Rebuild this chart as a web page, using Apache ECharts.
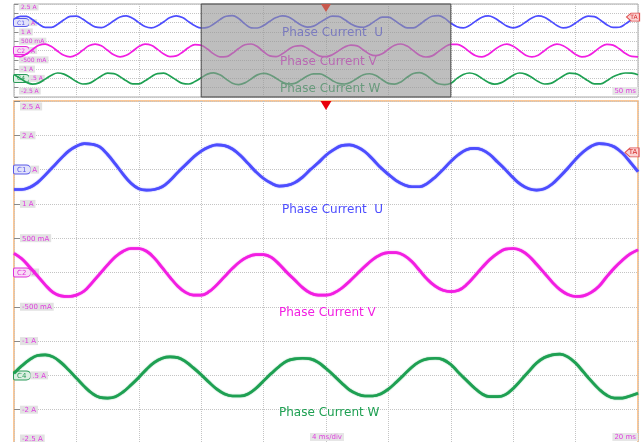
<!DOCTYPE html>
<html><head><meta charset="utf-8">
<script src="https://cdn.jsdelivr.net/npm/echarts@6/dist/echarts.min.js"></script>
<style>html,body{margin:0;padding:0;background:#fff;}#c{width:644px;height:442px;}</style>
</head><body><div id="c"></div>
<script>
// ---------- data ----------
const mainStepMs = 0.5;          // main record: 4 ms/div, 40 ms window
const overviewStepMs = 1;        // overview record: 100 ms
const zoomWindowMs = [30, 70];   // part of the overview shown in the main view
const triggerLevelA = 1.75;

const mainU = [1.21,1.21,1.24,1.31,1.42,1.54,1.66,1.77,1.84,1.88,
 1.87,1.83,1.72,1.58,1.43,1.30,1.22,1.20,
 1.21,1.25,1.34,1.46,1.57,1.68,1.77,1.83,1.86,
 1.85,1.80,1.71,1.59,1.47,1.37,1.30,1.26,
 1.27,1.31,1.39,1.50,1.60,1.71,1.79,1.85,
 1.86,1.83,1.76,1.65,1.53,1.43,1.34,1.28,1.25,
 1.25,1.30,1.39,1.50,1.62,1.72,1.79,1.81,
 1.79,1.72,1.61,1.50,1.38,1.28,1.22,1.20,
 1.22,1.29,1.40,1.52,1.65,1.76,1.84,1.88,
 1.87,1.83,1.74,1.61,1.47];
const mainV = [0.28,0.20,0.08,-0.05,-0.18,-0.29,-0.34,-0.35,
 -0.33,-0.27,-0.15,-0.02,0.11,0.23,0.31,0.35,
 0.35,0.31,0.21,0.07,-0.07,-0.20,-0.29,-0.33,
 -0.33,-0.28,-0.18,-0.06,0.06,0.16,0.23,0.26,
 0.26,0.22,0.12,0.00,-0.11,-0.22,-0.30,-0.33,
 -0.33,-0.30,-0.23,-0.13,-0.02,0.09,0.19,0.26,0.29,
 0.29,0.25,0.16,0.03,-0.10,-0.20,-0.26,-0.28,
 -0.26,-0.18,-0.06,0.07,0.19,0.28,0.34,0.35,
 0.32,0.24,0.12,-0.01,-0.14,-0.25,-0.32,-0.35,
 -0.34,-0.29,-0.20,-0.06,0.07,0.18,0.27,0.33];
const mainW = [-1.47,-1.36,-1.27,-1.21,-1.20,
 -1.23,-1.31,-1.42,-1.54,-1.66,-1.76,-1.82,-1.83,
 -1.81,-1.74,-1.64,-1.53,-1.41,-1.31,-1.25,-1.23,
 -1.24,-1.30,-1.39,-1.49,-1.60,-1.70,-1.77,-1.80,
 -1.80,-1.77,-1.69,-1.58,-1.47,-1.37,-1.29,-1.26,-1.25,
 -1.26,-1.31,-1.40,-1.50,-1.61,-1.71,-1.77,-1.80,
 -1.80,-1.77,-1.70,-1.60,-1.49,-1.38,-1.30,-1.26,-1.25,
 -1.27,-1.34,-1.46,-1.57,-1.68,-1.77,-1.81,
 -1.81,-1.78,-1.69,-1.57,-1.44,-1.32,-1.24,-1.20,
 -1.19,-1.23,-1.32,-1.45,-1.58,-1.70,-1.79,-1.83,-1.83,-1.80,-1.76];

// overview record outside the zoom window (0..29 ms and 71..100 ms)
const preU = [1.69,1.84,1.83,1.65,1.41,1.24,1.24,1.41,1.65,1.83,1.85,1.69,1.46,1.27,1.23,1.37,1.60,1.80,1.86,1.73,1.50,1.29,1.22,1.33,1.55,1.77,1.86,1.77,1.55,1.33];
const postU = [1.28,1.22,1.35,1.58,1.79,1.86,1.75,1.53,1.31,1.22,1.31,1.53,1.75,1.86,1.79,1.58,1.35,1.22,1.28,1.48,1.71,1.85,1.82,1.63,1.39,1.24,1.25,1.43,1.67,1.84];
const preV = [-0.29,-0.33,-0.18,0.07,0.28,0.34,0.21,-0.04,-0.26,-0.34,-0.23,0.01,0.25,0.34,0.25,0.01,-0.23,-0.34,-0.26,-0.04,0.21,0.34,0.28,0.06,-0.19,-0.33,-0.29,-0.09,0.16,0.32];
const postV = [0.33,0.19,-0.07,-0.28,-0.34,-0.21,0.04,0.26,0.34,0.23,-0.01,-0.25,-0.34,-0.25,-0.01,0.23,0.34,0.26,0.04,-0.21,-0.34,-0.28,-0.07,0.19,0.33,0.29,0.09,-0.16,-0.32,-0.34];
const preW = [-1.29,-1.50,-1.71,-1.81,-1.74,-1.54,-1.33,-1.21,-1.27,-1.45,-1.67,-1.80,-1.77,-1.59,-1.37,-1.22,-1.24,-1.41,-1.63,-1.79,-1.79,-1.63,-1.41,-1.24,-1.22,-1.37,-1.59,-1.77,-1.80,-1.67];
const postW = [-1.50,-1.29,-1.21,-1.29,-1.50,-1.71,-1.81,-1.74,-1.55,-1.33,-1.21,-1.27,-1.45,-1.67,-1.80,-1.77,-1.59,-1.37,-1.22,-1.24,-1.41,-1.63,-1.79,-1.79,-1.63,-1.41,-1.28,-1.21,-1.22,-1.30];

const seriesNames = ['Phase Current  U', 'Phase Current V', 'Phase Current W'];
const yTickValues = [2.5, 2, 1.5, 1, 0.5, 0, -0.5, -1, -1.5, -2, -2.5];
const yTickLabels = ['2.5 A', '2 A', 'A', '1 A', '500 mA', 'A', '-500 mA', '-1 A', '.5 A', '-2 A', '-2.5 A'];
const channelTags = ['', '', 'C1', '', '', 'C2', '', '', 'C4', '', ''];
const mainTimeLabel = '4 ms/div', mainSpanLabel = '20 ms', overviewSpanLabel = '50 ms';

// ---------- build ----------
const colors = ['#4d4dff', '#f21ee2', '#1ea052'];
const mainT = mainU.map((_, i) => i * mainStepMs);
const halfStep = Math.round(overviewStepMs / mainStepMs);
const ovU = preU.concat(mainU.filter((_, i) => i % halfStep === 0), postU);
const ovV = preV.concat(mainV.filter((_, i) => i % halfStep === 0), postV);
const ovW = preW.concat(mainW.filter((_, i) => i % halfStep === 0), postW);
const ovT = ovU.map((_, i) => i * overviewStepMs);
const pairs = (t, v) => t.map((x, i) => [x, v[i]]);

const tagStyle = (c, bg, fs) => ({color: c, borderColor: c, borderWidth: 1, backgroundColor: bg,
  borderRadius: [1, 5, 5, 1], padding: [1, 4, 0, 3], fontSize: fs, fontFamily: 'DejaVu Sans'});

function yAxis(gridIndex, fs, isTop) {
  return {
    type: 'value', gridIndex, min: -2.5, max: 2.5, interval: 0.5,
    axisLine: {show: false},
    axisTick: {show: true, inside: true, length: isTop ? 4 : 6, lineStyle: {color: '#8a8a8a'}},
    splitLine: {show: true, lineStyle: {color: '#c4c4c4', type: 'dotted', width: 1}},
    axisLabel: {
      show: true, inside: true, margin: 0, lineHeight: isTop ? 6 : 11,
      showMinLabel: true, showMaxLabel: true,
      formatter: (v) => {
        const i = yTickValues.findIndex(t => Math.abs(t - v) < 1e-6);
        if (i < 0) return '';
        if (isTop && (i === 1 || i === 9)) return '';
        const tag = channelTags[i];
        let s = tag ? '{c' + tag[1] + '|' + tag + '}{a|' + yTickLabels[i] + '}'
                    : '{sp| }{a|' + yTickLabels[i] + '}';
        if (i === 0) s = '\n' + s;
        if (i === 10) s = s + (isTop ? '\n\n' : '\n');
        return s;
      },
      rich: {
        sp: {width: isTop ? 5 : 6, fontSize: fs},
        a: {color: '#e03ce0', backgroundColor: '#e2e2e2', padding: [1, 2, 0, 2], fontSize: fs, fontFamily: 'DejaVu Sans', lineHeight: fs + 2},
        c1: tagStyle('#5a5ae8', '#e2e2fa', fs),
        c2: tagStyle('#e030d8', '#f8dcf6', fs),
        c4: tagStyle('#2a9a58', '#dcefe2', fs)
      }
    }
  };
}
function xAxis(gridIndex, max, interval) {
  return {
    type: 'value', gridIndex, min: 0, max, interval,
    axisLine: {show: false}, axisTick: {show: false}, axisLabel: {show: false},
    splitLine: {show: true, lineStyle: {color: '#c4c4c4', type: 'dotted', width: 1}}
  };
}
function line(name, data, ci, gi, width, extra) {
  return Object.assign({
    name, type: 'line', xAxisIndex: gi, yAxisIndex: gi, data, showSymbol: false, smooth: 0.4,
    lineStyle: {color: colors[ci], width, shadowBlur: gi === 0 ? 1.2 : 0, shadowColor: colors[ci]},
    itemStyle: {color: colors[ci]}, z: 2, silent: true
  }, extra || {});
}

const chart = echarts.init(document.getElementById('c'), null, {renderer: 'canvas'});
const textFont = '12px "DejaVu Sans"';
const txt = (x, y, s, fill) => ({type: 'text', x, y, z: 1, silent: true,
  style: {text: s, fill, font: textFont, verticalAlign: 'middle', align: 'left'}});
const tag = (x, y, s, align) => ({type: 'text', x, y, z: 10, silent: true,
  style: {text: s, fill: '#e040e0', font: '7px "DejaVu Sans"', backgroundColor: '#e6e6e6',
          padding: [1, 2, 0, 2], verticalAlign: 'middle', align}});

chart.setOption({
  animation: false,
  backgroundColor: '#ffffff',
  grid: [
    {left: 14, top: 101, width: 624, height: 343, show: true, borderColor: '#f7b577', borderWidth: 1.5, backgroundColor: 'transparent', containLabel: false, outerBoundsMode: 'none'},
    {left: 14, top: 4, width: 624, height: 93, show: true, borderColor: '#a8a8a8', borderWidth: 1, backgroundColor: 'transparent', containLabel: false, outerBoundsMode: 'none'}
  ],
  xAxis: [xAxis(0, 40, 4), xAxis(1, 100, 10)],
  yAxis: [yAxis(0, 7, false), yAxis(1, 6, true)],
  series: [
    line(seriesNames[0], pairs(mainT, mainU), 0, 0, 2.7, {
      markPoint: {z: 6, silent: true, data: [
        {coord: [20, 2.5], symbol: 'triangle', symbolRotate: 180, symbolSize: [11, 9], symbolOffset: [0, 4.5], itemStyle: {color: '#e8000a'}, label: {show: false}},
        {coord: [40, triggerLevelA], symbol: 'path://M0,5 L5,0 L14,0 L14,10 L5,10 Z', symbolSize: [14, 9], symbolOffset: [-6, 0],
         itemStyle: {color: '#fbd2d2', borderColor: '#e05050', borderWidth: 1},
         label: {show: true, formatter: 'TA', color: '#d42a2a', fontSize: 7, fontFamily: 'DejaVu Sans', offset: [1, 0]}}
      ]}
    }),
    line(seriesNames[1], pairs(mainT, mainV), 1, 0, 2.7),
    line(seriesNames[2], pairs(mainT, mainW), 2, 0, 2.7),
    line(seriesNames[0], pairs(ovT, ovU), 0, 1, 1.7, {
      markPoint: {z: 6, silent: true, data: [
        {coord: [100, 1.8], symbol: 'path://M0,5 L5,0 L14,0 L14,10 L5,10 Z', symbolSize: [13, 8], symbolOffset: [-5, 0],
         itemStyle: {color: '#fbd2d2', borderColor: '#e05050', borderWidth: 1},
         label: {show: true, formatter: 'TA', color: '#d42a2a', fontSize: 6, fontFamily: 'DejaVu Sans', offset: [1, 0]}}
      ]}
    }),
    line(seriesNames[1], pairs(ovT, ovV), 1, 1, 1.7),
    line(seriesNames[2], pairs(ovT, ovW), 2, 1, 1.7),
    {
      type: 'custom', xAxisIndex: 1, yAxisIndex: 1, z: 4, silent: true, clip: false,
      data: [[zoomWindowMs[0], zoomWindowMs[1]]],
      encode: {x: [0, 1]},
      renderItem: (params, api) => {
        const p0 = api.coord([api.value(0), 2.5]);
        const p1 = api.coord([api.value(1), -2.5]);
        return {type: 'rect', shape: {x: p0[0], y: p0[1], width: p1[0] - p0[0], height: p1[1] - p0[1]},
          style: {fill: 'rgba(150,150,150,0.62)', stroke: '#4a4a4a', lineWidth: 1}};
      },
      markPoint: {z: 6, silent: true, data: [
        {coord: [50, 2.5], symbol: 'triangle', symbolRotate: 180, symbolSize: [10, 8], symbolOffset: [0, 4], itemStyle: {color: '#c9584c'}, label: {show: false}}
      ]}
    }
  ],
  graphic: [
    txt(282, 210, seriesNames[0], colors[0]),
    txt(279, 313, seriesNames[1], colors[1]),
    txt(279, 413, seriesNames[2], colors[2]),
    txt(282, 33, seriesNames[0], colors[0]),
    txt(280, 62, seriesNames[1], colors[1]),
    txt(280, 89, seriesNames[2], colors[2]),
    tag(327, 437, mainTimeLabel, 'center'),
    tag(638, 437, mainSpanLabel, 'right'),
    tag(638, 91, overviewSpanLabel, 'right')
  ]
});
</script></body></html>
